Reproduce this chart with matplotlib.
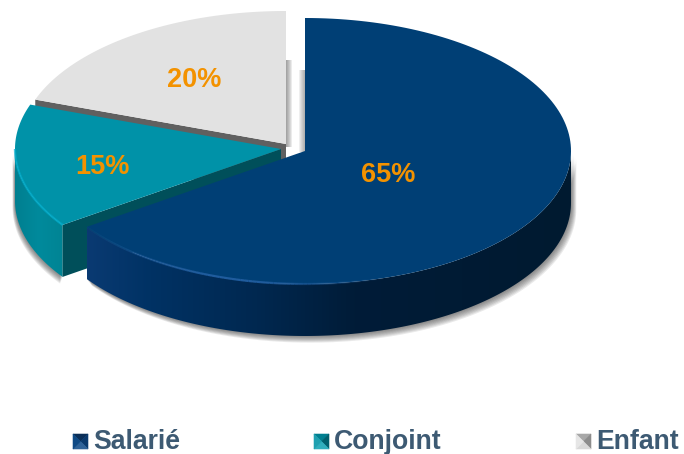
import matplotlib
matplotlib.use('Agg')
import matplotlib.pyplot as plt
from matplotlib.collections import LineCollection
from matplotlib.colors import LinearSegmentedColormap
from matplotlib.patches import Polygon
import numpy as np

categories = ['Salarié', 'Conjoint', 'Enfant']
values = [65, 15, 20]
labels = ['65%', '15%', '20%']

plt.rcParams['font.family'] = ['Liberation Sans', 'DejaVu Sans']

RX = 266
RY = 133
DEPTH = 52

# apex of each exploded slice, in figure pixels
apex = [(305, 151), (281, 149), (286, 144)]
# the original has a little perspective, so the cuts sit slightly off
edge_nudge = [0, 1.2, 1.5, 0]
top_colors = ['#003f75', '#0092a8', '#e2e2e2']
face_colors = ['#002a50', '#004f5a', '#606060']
wall_maps = [
    LinearSegmentedColormap.from_list('s0', [(0, '#0a3a72'), (0.13, '#003264'), (0.35, '#002850'),
                                             (0.55, '#001c38'), (1, '#001a30')]),
    LinearSegmentedColormap.from_list('s1', ['#007f90', '#008a9c', '#008494']),
]
label_pos = [(388, 175), (102, 167), (194, 80)]
legend_x = [73, 314, 576]
# top, right, bottom, left
legend_shades = [
    ['#0b2f58', '#0a3a6e', '#2f6399', '#0f4a85'],
    ['#007f90', '#00606e', '#30aebd', '#1fa0b0'],
    ['#a8a8a8', '#8c8c8c', '#d8d8d8', '#e6e6e6'],
]

fig = plt.figure(figsize=(6.84, 4.54), dpi=100)
ax = fig.add_axes([0, 0, 1, 1])


def arc(cx, cy, a0, a1, n=160):
    t = np.radians(np.linspace(a0, a1, n))
    return np.column_stack([cx + RX * np.sin(t), cy - RY * np.cos(t)])


def draw_slice(i, a0, a1):
    cx, cy = apex[i]
    pts = arc(cx, cy, a0, a1)
    top = np.vstack([[cx, cy], pts])
    z = z_order[i]

    # part of the outer wall facing the viewer
    s0, s1 = max(a0, 90), min(a1, 270)
    if s1 > s0:
        wall = arc(cx, cy, s0, s1)
        low = wall + [0, DEPTH]
        outline = np.vstack([wall, low[::-1]])
        # soft grey shadow
        sx = 0.75 if i == 0 else -0.35
        for k in range(1, 8):
            ax.fill(outline[:, 0] + sx * k, outline[:, 1] + k * 0.95,
                    color='#303030', alpha=0.10, lw=0, zorder=z)
        x0, x1 = outline[:, 0].min(), outline[:, 0].max()
        grad = np.linspace(0, 1, 256).reshape(1, -1)
        im = ax.imshow(grad, cmap=wall_maps[i], extent=(x0, x1, 454, 0), aspect='auto',
                       vmin=0, vmax=1, zorder=z + 0.1)
        im.set_clip_path(Polygon(outline, closed=True, transform=ax.transData))

    # cut face on the front side of the slice
    if i in (1, 2):
        corner = arc(cx, cy, a0, a0, 1)[0]
        face = [(cx, cy), corner, corner + [0, DEPTH], (cx, cy + DEPTH)]
        ax.fill(*zip(*face), color=face_colors[i], lw=0, zorder=z + 0.2)

    ax.fill(top[:, 0], top[:, 1], color=top_colors[i], lw=0, zorder=z + 0.3)

    # lighter rim above the wall
    if s1 > s0:
        rim = arc(cx, cy, s0, s1)
        segs = np.stack([rim[:-1], rim[1:]], axis=1)
        frac = (np.linspace(s0, s1, len(segs)) - s0) / (s1 - s0)
        if i == 0:
            rgba = [(0.12, 0.36, 0.62, np.clip((f - 0.5) / 0.2, 0, 1) * np.clip((1.02 - f) / 0.25, 0, 1))
                    for f in frac]
        else:
            rgba = [(0.0, 0.68, 0.80, 0.9)] * len(segs)
        ax.add_collection(LineCollection(segs, colors=rgba, linewidths=1.6, zorder=z + 0.4))


# back slices first
z_order = {2: 2, 1: 4, 0: 6}
edges = np.cumsum([0] + values) / sum(values) * 360 + edge_nudge
for i in [2, 1, 0]:
    draw_slice(i, edges[i], edges[i + 1])

# shadows thrown on the white gap by the straight edges
for k in range(6):
    ax.fill_between([apex[2][0], apex[2][0] + k + 1], 60, apex[2][1] + 3,
                    color='#505050', alpha=0.11, lw=0, zorder=1.5)
    ax.fill_between([apex[0][0] - k - 1, apex[0][0]], 70, apex[0][1] + 1,
                    color='#505050', alpha=0.09, lw=0, zorder=5.5)

for (x, y), txt in zip(label_pos, labels):
    ax.text(x, y, txt, color='#f39200', fontsize=19.5, fontweight='bold',
            ha='center', va='center', zorder=10)

# legend with bevelled markers
S = 15
y0 = 434
for x, name, shades in zip(legend_x, categories, legend_shades):
    c = (x + S / 2, y0 + S / 2)
    corners = [(x, y0), (x + S, y0), (x + S, y0 + S), (x, y0 + S)]
    for j in range(4):
        ax.fill(*zip(corners[j], corners[(j + 1) % 4], c), facecolor=shades[j],
                edgecolor=shades[j], lw=0.4, zorder=10)
    ax.text(x + S + 5, 449, name, color='#3d5a73', fontsize=19.2,
            fontweight='bold', ha='left', va='baseline', zorder=10)

ax.set_xlim(0, 684)
ax.set_ylim(454, 0)
ax.axis('off')
fig.savefig('out.png', dpi=100)
